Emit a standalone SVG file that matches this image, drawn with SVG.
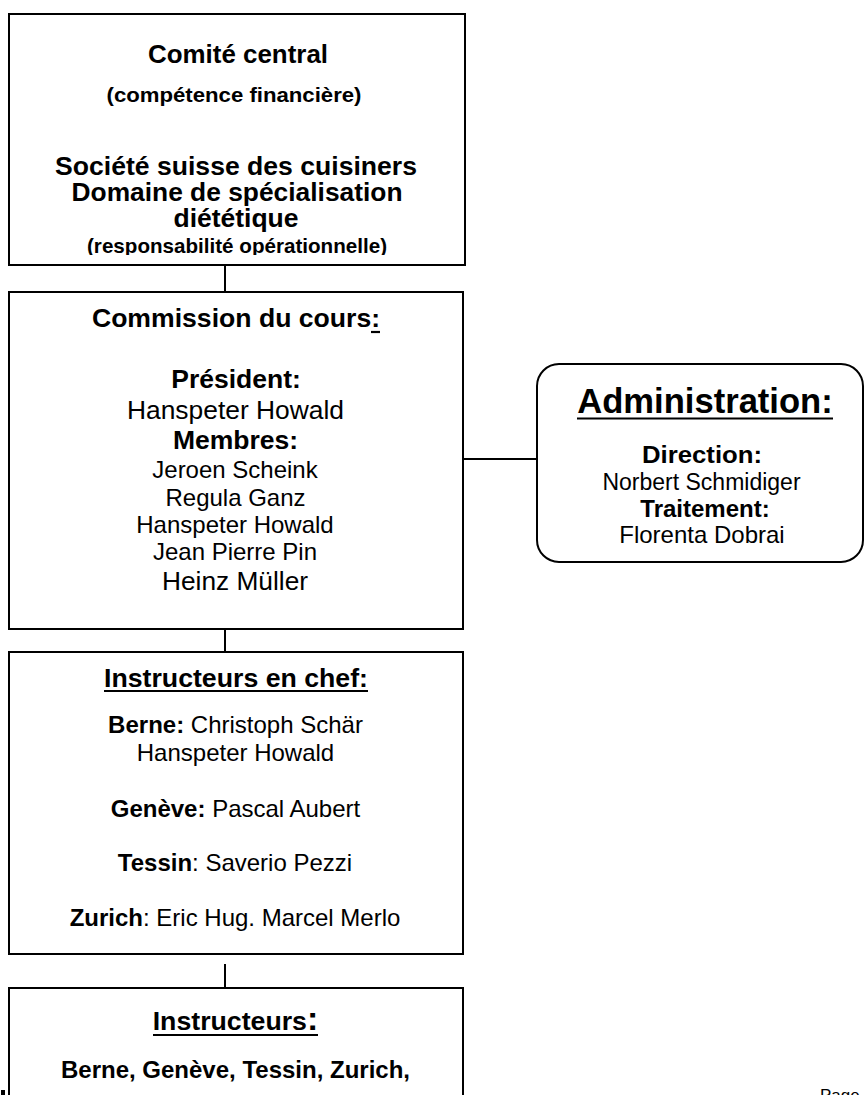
<svg xmlns="http://www.w3.org/2000/svg" width="864" height="1095" viewBox="0 0 864 1095">
<style>
  text { font-family: "Liberation Sans", Arial, sans-serif; fill: #000; text-anchor: middle; }
  .b { font-weight: bold; }
  .box { fill: #fff; stroke: #000; stroke-width: 2; }
  .conn { stroke: #000; stroke-width: 2; fill: none; }
  .ul { stroke: #000; stroke-width: 2.2; }
</style>
<defs>
  <clipPath id="clip1"><rect x="9" y="14" width="456" height="241"/></clipPath>
</defs>
<rect width="864" height="1095" fill="#fff"/>

<g id="connectors">
  <line class="conn" x1="225" y1="265" x2="225" y2="292"/>
  <line class="conn" x1="225" y1="629" x2="225" y2="652"/>
  <line class="conn" x1="225" y1="964" x2="225" y2="988"/>
  <line class="conn" x1="463" y1="459" x2="537" y2="459" stroke-width="1.6"/>
</g>

<g id="comite-central">
  <rect class="box" x="9" y="14" width="456" height="251"/>
  <g clip-path="url(#clip1)">
    <text class="b" x="238" y="63" font-size="25" textLength="180" lengthAdjust="spacingAndGlyphs">Comité central</text>
    <text class="b" x="234" y="102" font-size="20.5" textLength="255" lengthAdjust="spacingAndGlyphs">(compétence financière)</text>
    <text class="b" x="236" y="175" font-size="25.5" textLength="362" lengthAdjust="spacingAndGlyphs">Société suisse des cuisiners</text>
    <text class="b" x="237" y="201" font-size="25.5" textLength="331" lengthAdjust="spacingAndGlyphs">Domaine de spécialisation</text>
    <text class="b" x="236" y="227" font-size="25.5" textLength="125" lengthAdjust="spacingAndGlyphs">diététique</text>
    <text class="b" x="237" y="253" font-size="20.6" textLength="300" lengthAdjust="spacingAndGlyphs">(responsabilité opérationnelle)</text>
  </g>
</g>

<g id="commission">
  <rect class="box" x="9" y="292" width="454" height="337"/>
  <text class="b" x="236" y="327" font-size="26.6">Commission du cours:</text>
  <line class="ul" x1="371" y1="332" x2="380" y2="332"/>
  <text class="b" x="236" y="388" font-size="26.5">Président:</text>
  <text x="235.5" y="419" font-size="26.4">Hanspeter Howald</text>
  <text class="b" x="235.5" y="449" font-size="26.5">Membres:</text>
  <text x="235" y="478" font-size="24">Jeroen Scheink</text>
  <text x="235.5" y="506" font-size="24">Regula Ganz</text>
  <text x="235" y="533" font-size="24">Hanspeter Howald</text>
  <text x="235" y="560" font-size="24">Jean Pierre Pin</text>
  <text x="235" y="590" font-size="26.3">Heinz Müller</text>
</g>

<g id="administration">
  <rect class="box" x="537" y="364" width="326" height="198" rx="22" ry="22"/>
  <text class="b" x="705" y="413" font-size="34.6">Administration:</text>
  <line class="ul" x1="577" y1="418.5" x2="833" y2="418.5" stroke-width="2.6"/>
  <text class="b" x="702" y="463" font-size="24" textLength="120" lengthAdjust="spacingAndGlyphs">Direction:</text>
  <text x="701.5" y="490" font-size="23">Norbert Schmidiger</text>
  <text class="b" x="705" y="517" font-size="24">Traitement:</text>
  <text x="702" y="543" font-size="24">Florenta Dobrai</text>
</g>

<g id="instructeurs-chef">
  <rect class="box" x="9" y="652" width="454" height="302"/>
  <text class="b" x="236" y="687" font-size="26.7">Instructeurs en chef:</text>
  <line class="ul" x1="104" y1="691" x2="368" y2="691"/>
  <text x="235.5" y="733" font-size="24"><tspan class="b">Berne:</tspan> Christoph Schär</text>
  <text x="235.5" y="761" font-size="24">Hanspeter Howald</text>
  <text x="235.5" y="817" font-size="24"><tspan class="b">Genève:</tspan> Pascal Aubert</text>
  <text x="235" y="871" font-size="24"><tspan class="b">Tessin</tspan>: Saverio Pezzi</text>
  <text x="235" y="926" font-size="24"><tspan class="b">Zurich</tspan>: Eric Hug. Marcel Merlo</text>
</g>

<g id="instructeurs">
  <rect class="box" x="9" y="988" width="454" height="130"/>
  <text class="b" x="235.5" y="1030" font-size="26.7">Instructeurs<tspan font-size="34">:</tspan></text>
  <line class="ul" x1="153" y1="1035" x2="318" y2="1035"/>
  <text class="b" x="235.5" y="1078" font-size="24">Berne, Genève, Tessin, Zurich,</text>
</g>

<rect x="1" y="1090" width="4" height="5" fill="#000"/>
<text x="820" y="1101" font-size="17" style="text-anchor:start">Page</text>
</svg>
